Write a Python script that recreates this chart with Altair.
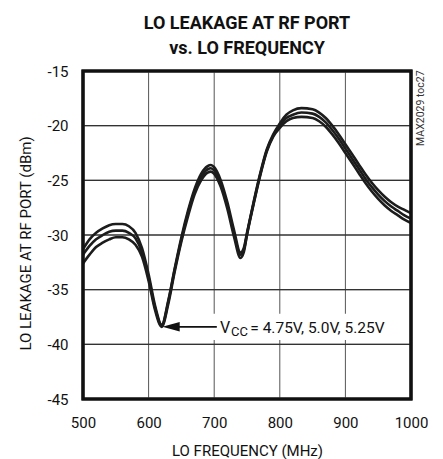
import altair as alt
import pandas as pd

freq = [500, 510, 520, 530, 540, 550, 560, 570, 580, 590, 600, 610, 620, 630, 640, 650,
        660, 670, 680, 690, 695, 700, 710, 720, 730, 740, 745, 750, 760, 770, 780, 790,
        800, 810, 820, 833, 850, 860, 870, 880, 890, 900, 910, 920, 930, 940, 950, 960,
        970, 980, 990, 1000]

vcc_525 = [-31.3, -30.4, -29.8, -29.4, -29.1, -29.0, -29.0, -29.2, -29.8, -31.2, -33.6, -36.5,
           -38.2, -36.0, -33.0, -30.2, -27.8, -25.8, -24.4, -23.7, -23.6, -23.8, -25.0, -27.0,
           -29.5, -31.6, -31.2, -29.8, -27.0, -24.4, -22.2, -20.8, -19.8, -19.0, -18.6, -18.4,
           -18.5, -18.8, -19.3, -20.0, -20.8, -21.7, -22.6, -23.5, -24.4, -25.2, -25.9, -26.5,
           -27.0, -27.4, -27.7, -28.0]

vcc_500 = [-31.8, -31.0, -30.4, -30.0, -29.7, -29.6, -29.6, -29.8, -30.3, -31.6, -33.9, -36.7,
           -38.3, -36.1, -33.1, -30.4, -28.0, -26.0, -24.7, -24.0, -23.9, -24.1, -25.3, -27.3,
           -29.8, -31.8, -31.4, -29.9, -27.1, -24.5, -22.3, -20.9, -20.0, -19.3, -19.0, -18.8,
           -18.9, -19.2, -19.7, -20.4, -21.2, -22.1, -23.0, -23.9, -24.8, -25.6, -26.3, -26.9,
           -27.4, -27.8, -28.2, -28.5]

vcc_475 = [-32.6, -31.8, -31.1, -30.7, -30.4, -30.2, -30.2, -30.4, -30.9, -32.0, -34.2, -36.9,
           -38.4, -36.3, -33.3, -30.6, -28.3, -26.3, -25.0, -24.3, -24.2, -24.4, -25.6, -27.6,
           -30.1, -32.1, -31.6, -30.0, -27.2, -24.6, -22.4, -21.0, -20.2, -19.6, -19.3, -19.2,
           -19.3, -19.6, -20.1, -20.8, -21.6, -22.5, -23.4, -24.3, -25.2, -26.0, -26.7, -27.3,
           -27.8, -28.2, -28.6, -28.9]

x_ticks = [500, 600, 700, 800, 900, 1000]
y_ticks = [-45, -40, -35, -30, -25, -20, -15]

FONT = "Roboto, Liberation Sans, sans-serif"

rows = []
for name, vals in [("5.25V", vcc_525), ("5.0V", vcc_500), ("4.75V", vcc_475)]:
    for f, v in zip(freq, vals):
        rows.append({"freq": f, "leak": v, "vcc": name})
df = pd.DataFrame(rows)

x0, x1 = x_ticks[0], x_ticks[-1]
y0, y1 = y_ticks[0], y_ticks[-1]
W, H = 328, 328
px_y = (y1 - y0) / H
xc, yc = (x0 + x1) / 2, (y0 + y1) / 2

xs = alt.Scale(domain=[x0, x1], nice=False, zero=False)
ys = alt.Scale(domain=[y0, y1], nice=False, zero=False)

xax = alt.Axis(values=x_ticks, title="LO FREQUENCY (MHz)", grid=False, ticks=False, domain=False,
               labelFlush=False, labelExpr="datum.value + ''",
               labelPadding=16, titlePadding=13, labelFontSize=15, titleFontSize=15,
               labelFont=FONT, titleFont=FONT, titleFontWeight="normal",
               labelColor="#111", titleColor="#111")
yax = alt.Axis(values=y_ticks, title="LO LEAKAGE AT RF PORT (dBm)", grid=False, ticks=False,
               domain=False, labelFlush=False, labelExpr="datum.value + ''",
               labelPadding=15, labelFontSize=15, titleFontSize=15,
               labelFont=FONT, titleFont=FONT, titleFontWeight="normal",
               labelColor="#111", titleColor="#111",
               titleX=-58, titleY=172, titleBaseline="middle", titleAlign="center", titleAngle=270)

# vertical grid lines (interior x ticks)
vgrid = alt.Chart(pd.DataFrame({"gx": x_ticks[1:-1], "gy0": y0, "gy1": y1})).mark_rule(
    color="#555", strokeWidth=1).encode(
    x=alt.X("gx:Q", scale=xs, axis=xax), y=alt.Y("gy0:Q", scale=ys, axis=yax), y2="gy1:Q")

# horizontal grid lines: stroked horizontal symbols centred on the plot, one per interior y tick
hsym = alt.Chart(pd.DataFrame({"hx": xc, "hy": y_ticks[1:-1]})).mark_point(
    shape="M -1 0 L 1 0", filled=False, color="#333", strokeWidth=1, size=W * W, opacity=1
).encode(x=alt.X("hx:Q", scale=xs, axis=xax), y=alt.Y("hy:Q", scale=ys, axis=yax))

# same lines as thin areas (fallback)
arows = []
for g in y_ticks[1:-1]:
    for xx in (x0, x1):
        arows.append({"ax": xx, "alo": g - 0.55 * px_y, "ahi": g + 0.55 * px_y, "ag": str(g)})
harea = alt.Chart(pd.DataFrame(arows)).mark_area(color="#333", opacity=1).encode(
    x=alt.X("ax:Q", scale=xs, axis=xax), y=alt.Y("alo:Q", scale=ys, axis=yax), y2="ahi:Q",
    detail="ag:N")

lines = alt.Chart(df).mark_line(color="#1c1c1c", strokeWidth=2.6, interpolate="monotone").encode(
    x=alt.X("freq:Q", scale=xs, axis=xax),
    y=alt.Y("leak:Q", scale=ys, axis=yax),
    detail="vcc:N",
)

# plot frame: one square outline symbol centred on the plot, sized to the plot area
fsym = alt.Chart(pd.DataFrame({"fx": [xc], "fy": [yc]})).mark_point(
    shape="M -1 -1 L 1 -1 L 1 1 L -1 1 Z", filled=False, color="#111", strokeWidth=3.2,
    size=W * H, opacity=1
).encode(x=alt.X("fx:Q", scale=xs, axis=xax), y=alt.Y("fy:Q", scale=ys, axis=yax))

# annotation
ann_box = pd.DataFrame({"x": [697], "x2": [965], "y": [-37.2], "y2": [-39.6]})
box = alt.Chart(ann_box).mark_rect(color="white").encode(x="x:Q", x2="x2:Q", y="y:Q", y2="y2:Q")

arrow_line = pd.DataFrame({"x": [635], "x2": [704], "y": [-38.4]})
aline = alt.Chart(arrow_line).mark_rule(color="#111", strokeWidth=1.6).encode(
    x="x:Q", x2="x2:Q", y="y:Q")

arrow_head = pd.DataFrame({"x": [621], "y": [-38.4]})
ahead = alt.Chart(arrow_head).mark_point(
    shape="M 0 0 L 2 -0.55 L 2 0.55 Z", filled=True, color="#111", size=300, opacity=1
).encode(x="x:Q", y="y:Q")

t_v = alt.Chart(pd.DataFrame({"x": [709], "y": [-39.0], "t": ["V"]})).mark_text(
    align="left", baseline="alphabetic", font=FONT, fontSize=16, color="#111"
).encode(x="x:Q", y="y:Q", text="t:N")
t_cc = alt.Chart(pd.DataFrame({"x": [725.5], "y": [-39.2], "t": ["CC"]})).mark_text(
    align="left", baseline="alphabetic", font=FONT, fontSize=13, color="#111"
).encode(x="x:Q", y="y:Q", text="t:N")
t_rest = alt.Chart(pd.DataFrame({"x": [755], "y": [-39.0], "t": ["= 4.75V, 5.0V, 5.25V"]})).mark_text(
    align="left", baseline="alphabetic", font=FONT, fontSize=15.5, color="#111"
).encode(x="x:Q", y="y:Q", text="t:N")

wm = alt.Chart(pd.DataFrame({"x": [1016], "y": [-18.4], "t": ["MAX2029 toc27"]})).mark_text(
    angle=270, align="center", baseline="middle", font=FONT, fontSize=10.5, color="#333"
).encode(x="x:Q", y="y:Q", text="t:N")

chart = alt.layer(vgrid, harea, hsym, lines, fsym, box, aline, ahead,
                  t_v, t_cc, t_rest, wm).properties(
    width=W, height=H,
    autosize=alt.AutoSizeParams(type="none"),
    padding={"left": 75, "top": 63, "right": 24, "bottom": 60},
    background="white",
    title=alt.TitleParams(
        text=["LO LEAKAGE AT RF PORT", "vs. LO FREQUENCY"],
        font=FONT, fontSize=18, fontWeight="bold", lineHeight=25,
        anchor="middle", offset=6, color="#111",
    ),
).configure_view(stroke="#111", strokeWidth=3)

chart.save("out.html", embed_options={"renderer": "svg", "actions": False})
